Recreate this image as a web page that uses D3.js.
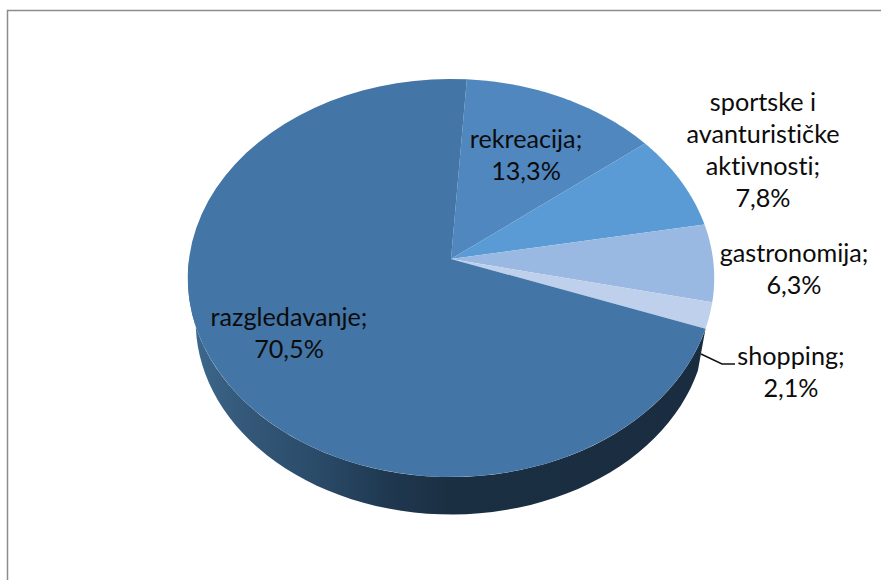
<!DOCTYPE html>
<html><head><meta charset="utf-8">
<script src="https://cdn.jsdelivr.net/npm/d3@7/dist/d3.min.js"></script>
<style>html,body{margin:0;padding:0;background:#fff}svg{display:block}text{font-variant-ligatures:none}</style></head>
<body><svg id="c" width="881" height="580"></svg>
<script>
const categories=["rekreacija","sportske i avanturističke aktivnosti","gastronomija","shopping","razgledavanje"];
const values=[13.3,7.8,6.3,2.1,70.5];
const colors=["#5087be","#5b9bd5","#9ab9e2","#bfd0ec","#4375a6"];
const labelLines=[["rekreacija;","13,3%"],["sportske i","avanturističke","aktivnosti;","7,8%"],["gastronomija;","6,3%"],["shopping;","2,1%"],["razgledavanje;","70,5%"]];
const labelX=[526,763,794,791,289];
const labelY=[148,111,262,365,326];

const W=881,H=580;
const svg=d3.select("#c");
const X0=451,Y0=259,A=262,B=197.2,P=0.0955,DEPTH=44,SHRINK=0.97;
const proj=(t,s=1,dy=0)=>{const u=Math.sin(t),v=-Math.cos(t),w=1-P*v;
  return [X0+A*s*u/w,Y0+dy+B*s*v/w];};
const TAU=Math.PI*2,START=3.8*Math.PI/180;
const pie=d3.pie().sort(null).value(d=>d).startAngle(START).endAngle(START+TAU);
const arcs=pie(values);
const line=d3.line();
const samp=(a,b,s=1,dy=0)=>d3.range(0,61).map(i=>proj(a+(b-a)*i/60,s,dy));

const defs=svg.append("defs");
const grad=defs.append("linearGradient").attr("id","side").attr("gradientUnits","userSpaceOnUse")
 .attr("x1",188).attr("x2",714).attr("y1",0).attr("y2",0);
[[0,"#3d6a8e"],[0.1,"#35597a"],[0.25,"#2a4a68"],[0.38,"#1f3850"],[0.5,"#1b2f42"],[1,"#1a2d40"]]
 .forEach(([o,c])=>grad.append("stop").attr("offset",o).attr("stop-color",c));

// frame
svg.append("rect").attr("x",7.5).attr("y",10.5).attr("width",W+20).attr("height",H+20)
  .attr("fill","#fff").attr("stroke","#8c8c8c").attr("stroke-width",1.5);

// side wall, visible part of the razgledavanje slice
const upperEdge=samp(1.92,4.72), lowerEdge=samp(1.92,4.72,SHRINK,DEPTH);
svg.append("path").attr("d",line(upperEdge.concat(lowerEdge.reverse()))+"Z").attr("fill","url(#side)");

// top faces
svg.append("g").selectAll("path").data(arcs).join("path")
  .attr("d",d=>line([[X0,Y0]].concat(samp(d.startAngle,d.endAngle)))+"Z")
  .attr("fill",(d,i)=>colors[i]);

// leader line
svg.append("polyline").attr("points",[[701,354],[722,364],[735,364]].join(" "))
  .attr("fill","none").attr("stroke","#111").attr("stroke-width",1.4);

// labels
const g=svg.append("g").attr("font-family","Lato, sans-serif").attr("font-size",25.2).attr("fill","#0c0c0c").attr("text-anchor","middle");
labelLines.forEach((ls,i)=>{ls.forEach((t,j)=>g.append("text").attr("x",labelX[i]).attr("y",labelY[i]+j*32).text(t));});
</script></body></html>
